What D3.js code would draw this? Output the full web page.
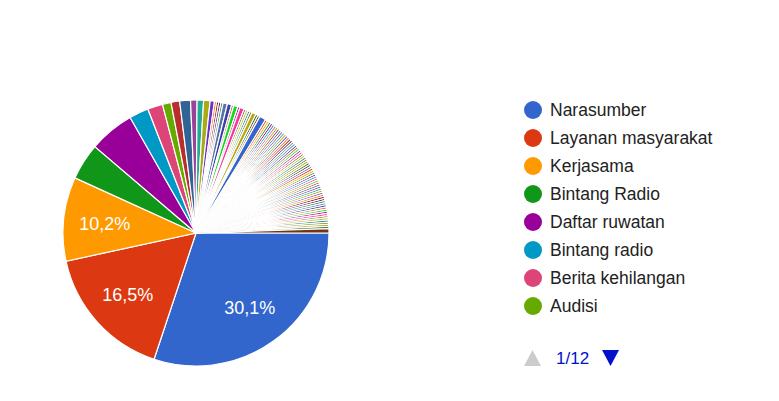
<!DOCTYPE html>
<html>
<head>
<meta charset="utf-8">
<script src="https://cdn.jsdelivr.net/npm/d3@7"></script>
<style>
  body { margin: 0; background: #fff; }
  svg { display: block; font-family: Arial, "Liberation Sans", sans-serif; }
</style>
</head>
<body>
<svg id="chart" width="779" height="401"></svg>
<script>
// legend names that are visible on page 1 of the legend
let names = ["Narasumber", "Layanan masyarakat", "Kerjasama", "Bintang Radio",
             "Daftar ruwatan", "Bintang radio", "Berita kehilangan", "Audisi"]

// response counts per answer, in drawing order (93 answers, most of them 1)
let counts = [115, 63, 39, 17, 21, 9, 7, 4, 4, 5,
              3, 3, 3, 2, 1, 1, 1, 1,
              2, 2, 1, 2, 1, 2, 1, 1, 1, 1, 2, 1, 1,
              3,
              1, 1, 1, 1, 1, 1, 1, 1, 1, 1,
              1, 1, 1, 1, 1, 1, 1, 1, 1, 1,
              1, 1, 1, 1, 1, 1, 1, 1, 1, 1,
              1, 1, 1, 1, 1, 1, 1, 1, 1, 1,
              1, 1, 1, 1, 1, 1, 1, 1, 1, 1,
              1, 1, 1, 1, 1, 1, 1, 1, 1, 1,
              2]

let legend_page = 1,
    legend_pages = 12

// google charts default palette
let palette = ["#3366cc", "#dc3912", "#ff9900", "#109618", "#990099", "#0099c6",
  "#dd4477", "#66aa00", "#b82e2e", "#316395", "#994499", "#22aa99", "#aaaa11",
  "#6633cc", "#e67300", "#8b0707", "#651067", "#329262", "#5574a6", "#3b3eac",
  "#b77322", "#16d620", "#b91383", "#f4359e", "#9c5935", "#a9c413", "#2a778d",
  "#668d1c", "#bea413", "#0c5922", "#743411"]

let width = 779,
    height = 401,
    cx = 196, cy = 233, radius = 133

let total = d3.sum(counts)
let color = i => palette[i % palette.length]
let fmt = v => d3.format(".1f")(v).replace(".", ",") + "%"

let svg = d3.select("#chart")

function draw_pie() {
  let pie = d3.pie()
    .sort(null)
    .value(d => d)
    .startAngle(Math.PI / 2)
    .endAngle(Math.PI / 2 + 2 * Math.PI)

  let arc = d3.arc().innerRadius(0).outerRadius(radius)
  let label_arc = d3.arc().innerRadius(radius * 0.69).outerRadius(radius * 0.69)

  let arcs = pie(counts)

  let g = svg.append("g").attr("transform", `translate(${cx},${cy})`)

  g.selectAll("path")
    .data(arcs).enter()
    .append("path")
    .attr("d", arc)
    .attr("fill", (d, i) => color(i))
    .attr("stroke", "#fff")
    .attr("stroke-width", 1.2)

  // only slices big enough get a percent label
  g.selectAll("text")
    .data(arcs.filter(d => d.value / total > 0.08)).enter()
    .append("text")
    .attr("transform", d => `translate(${label_arc.centroid(d)})`)
    .attr("text-anchor", "middle")
    .attr("dy", "0.35em")
    .attr("fill", "#fff")
    .style("font-size", "18px")
    .text(d => fmt(d.value / total * 100))
}

function draw_legend() {
  let y = d3.scalePoint()
    .domain(names)
    .range([110, 110 + 28 * (names.length - 1)])

  let rows = svg.append("g").selectAll("g")
    .data(names).enter()
    .append("g")
    .attr("transform", d => `translate(533,${y(d)})`)

  rows.append("circle")
    .attr("r", 9)
    .attr("fill", (d, i) => color(i))

  rows.append("text")
    .attr("x", 17)
    .attr("dy", "0.35em")
    .attr("fill", "#222")
    .style("font-size", "17.5px")
    .text(d => d)

  // page navigation
  let nav = svg.append("g").attr("transform", "translate(0,358)")
  nav.append("path")
    .attr("d", "M524,8 L532.5,-8 L541,8 Z")
    .attr("fill", "#cccccc")
  nav.append("text")
    .attr("x", 556)
    .attr("dy", "0.35em")
    .attr("fill", "#0011cc")
    .style("font-size", "17px")
    .text(`${legend_page}/${legend_pages}`)
  nav.append("path")
    .attr("d", "M602,-8 L619,-8 L610.5,8 Z")
    .attr("fill", "#0011cc")
}

draw_pie()
draw_legend()
</script>
</body>
</html>
